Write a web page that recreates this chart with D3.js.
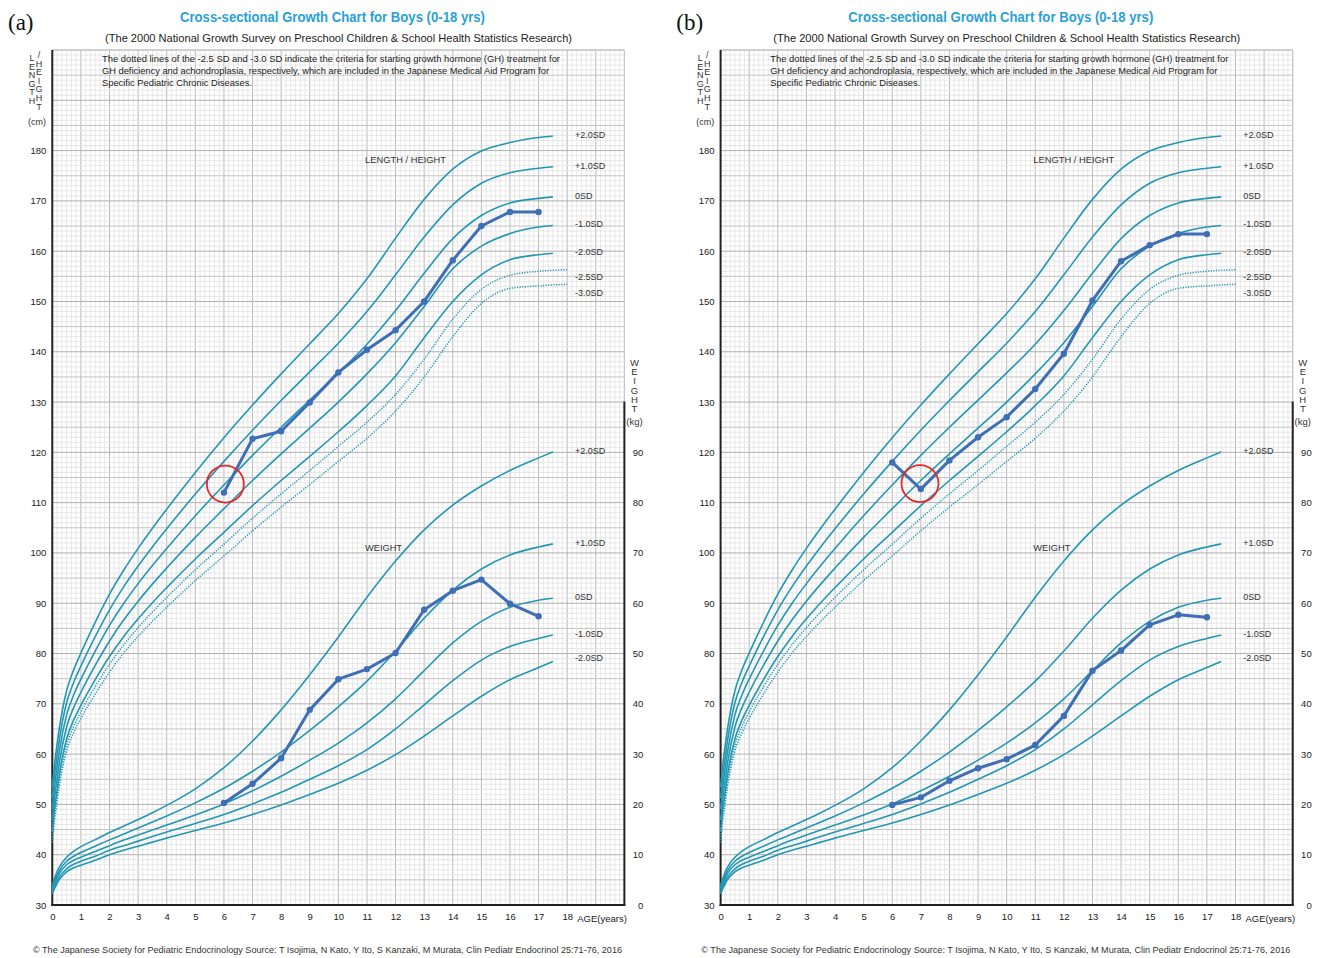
<!DOCTYPE html>
<html><head><meta charset="utf-8">
<script src="https://cdn.jsdelivr.net/npm/d3@7"></script>
<style>body{margin:0;background:#fff}</style>
</head><body>
<svg id="c" width="1322" height="958"></svg>
<script>
// ---------------- DATA ----------------
const ages = [0, 0.08, 0.17, 0.25, 0.5, 0.75, 1, 1.5, 2, 2.5, 3, 3.5, 4, 5, 6, 7, 8, 9, 10, 11, 12, 13, 14, 15, 16, 17, 17.5];
const dottedAges = [0, 0.08, 0.17, 0.25, 0.5, 0.75, 1, 1.5, 2, 2.5, 3, 3.5, 4, 5, 6, 7, 8, 9, 10, 11, 12, 13, 14, 15, 16, 17, 17.5, 18];

// length/height reference curves (cm)
const hP2 = [53.4, 58.0, 62.1, 65.3, 72.6, 76.8, 80.1, 86.2, 91.8, 96.6, 100.9, 104.9, 108.7, 116.0, 122.9, 129.4, 135.6, 141.6, 147.6, 154.5, 162.6, 170.3, 176.3, 179.9, 181.6, 182.6, 182.9];
const hP1 = [51.2, 55.8, 59.8, 63.0, 70.2, 74.3, 77.5, 83.35, 88.7, 93.3, 97.4, 101.2, 104.8, 111.7, 118.2, 124.4, 130.3, 136.0, 141.7, 148.0, 155.3, 162.8, 169.2, 173.5, 175.6, 176.5, 176.8];
const h0  = [49.0, 53.6, 57.5, 60.7, 67.8, 71.8, 74.9, 80.5, 85.6, 90.0, 93.9, 97.5, 100.9, 107.4, 113.5, 119.4, 125.0, 130.4, 135.8, 141.5, 148.2, 155.6, 162.5, 167.1, 169.6, 170.5, 170.8];
const hM1 = [46.8, 51.4, 55.2, 58.4, 65.4, 69.3, 72.3, 77.65, 82.5, 86.7, 90.4, 93.8, 97.0, 103.1, 108.8, 114.4, 119.7, 124.8, 130.0, 135.6, 141.8, 149.0, 156.5, 161.0, 163.5, 164.8, 165.1];
const hM2 = [44.6, 49.2, 52.9, 56.1, 63.0, 66.8, 69.7, 74.8, 79.4, 83.4, 86.9, 90.1, 93.1, 98.8, 104.1, 109.4, 114.4, 119.2, 124.1, 129.3, 135.2, 142.8, 150.0, 155.3, 158.3, 159.3, 159.6];
const hM25 = [43.5, 48.1, 51.75, 54.95, 61.8, 65.55, 68.4, 73.4, 77.85, 81.75, 85.15, 88.25, 91.15, 96.65, 101.75, 106.9, 111.75, 116.4, 121.2, 126.0, 131.5, 138.5, 146.5, 152.4, 155.2, 156.0, 156.2, 156.3];
const hM3 = [42.4, 47.0, 50.6, 53.8, 60.6, 64.3, 67.1, 71.95, 76.3, 80.1, 83.4, 86.4, 89.2, 94.5, 99.4, 104.4, 109.1, 113.6, 118.2, 122.8, 128.2, 135.0, 143.0, 149.6, 152.6, 153.1, 153.3, 153.4];

// weight reference curves (kg)
const wP2 = [3.9, 5.3, 6.7, 7.6, 9.5, 10.7, 11.6, 13.0, 14.4, 15.7, 17.0, 18.35, 19.8, 23.1, 27.3, 32.6, 38.8, 45.8, 53.3, 61.2, 68.4, 74.6, 79.5, 83.3, 86.4, 88.9, 90.1];
const wP1 = [3.4, 4.7, 6.0, 6.9, 8.7, 9.7, 10.45, 11.7, 12.95, 14.1, 15.3, 16.5, 17.7, 20.3, 23.2, 26.6, 30.4, 34.7, 39.4, 44.5, 50.5, 57.0, 62.6, 66.8, 69.6, 71.2, 71.8];
const w0  = [3.0, 4.2, 5.4, 6.3, 8.0, 8.9, 9.5, 10.65, 11.8, 12.9, 13.9, 14.9, 15.9, 17.9, 20.1, 22.7, 25.6, 28.8, 32.2, 36.2, 41.0, 46.6, 52.1, 56.4, 59.2, 60.6, 61.0];
const wM1 = [2.6, 3.7, 4.8, 5.6, 7.2, 8.1, 8.7, 9.7, 10.9, 11.8, 12.7, 13.6, 14.5, 16.2, 18.0, 20.1, 22.4, 25.0, 27.7, 30.9, 35.0, 39.8, 44.6, 48.7, 51.4, 53.0, 53.7];
const wM2 = [2.2, 3.3, 4.3, 5.1, 6.6, 7.4, 7.9, 8.9, 10.0, 10.9, 11.7, 12.5, 13.3, 14.8, 16.3, 18.0, 19.9, 22.0, 24.2, 26.8, 29.9, 33.6, 37.6, 41.5, 44.8, 47.2, 48.4];

const hLabels = ["+2.0SD", "+1.0SD", "0SD", "-1.0SD", "-2.0SD", "-2.5SD", "-3.0SD"];
const hLabelVals = [183.1, 176.9, 171.1, 165.5, 159.8, 154.9, 151.8];
const wLabels = ["+2.0SD", "+1.0SD", "0SD", "-1.0SD", "-2.0SD"];
const wLabelVals = [90.3, 72.1, 61.2, 54.0, 49.2];

const hTicks = [30, 40, 50, 60, 70, 80, 90, 100, 110, 120, 130, 140, 150, 160, 170, 180];
const wTicks = [0, 10, 20, 30, 40, 50, 60, 70, 80, 90];
const ageTicks = [0, 1, 2, 3, 4, 5, 6, 7, 8, 9, 10, 11, 12, 13, 14, 15, 16, 17, 18];

// patient data
const patientAges = [6, 7, 8, 9, 10, 11, 12, 13, 14, 15, 16, 17];
const aHeight = [112.0, 122.7, 124.2, 129.9, 135.9, 140.4, 144.3, 150.0, 158.2, 165.0, 167.8, 167.8];
const aWeight = [20.3, 24.1, 29.2, 38.8, 44.9, 46.9, 50.1, 58.7, 62.5, 64.7, 59.9, 57.4];
const bHeight = [118.0, 112.7, 118.4, 123.0, 127.0, 132.6, 139.6, 150.2, 158.0, 161.2, 163.4, 163.4];
const bWeight = [19.9, 21.4, 24.7, 27.2, 29.0, 31.8, 37.6, 46.6, 50.6, 55.7, 57.7, 57.2];
const aCircle = [6.05, 113.7];
const bCircle = [6.97, 113.8];

const titleText = "Cross-sectional Growth Chart for Boys (0-18 yrs)";
const subtitleText = "(The 2000 National Growth Survey on Preschool Children & School Health Statistics Research)";
const noteLines = [
  "The dotted lines of the -2.5 SD and -3.0 SD indicate the criteria for starting growth hormone (GH) treatment for",
  "GH deficiency and achondroplasia, respectively, which are included in the Japanese Medical Aid Program for",
  "Specific Pediatric Chronic Diseases."
];
const footerText = "\u00A9 The Japanese Society for Pediatric Endocrinology    Source: T Isojima, N Kato, Y Ito, S Kanzaki, M Murata, Clin Pediatr Endocrinol 25:71-76, 2016";

// ---------------- DRAW ----------------
const svg = d3.select("#c");
const CURVE = "#2297b4";
const PAT = "#3e6fb6";
const FONT = "'Liberation Sans', Arial, sans-serif";

function panel(ox, tag, pH, pW, circ) {
  const g = svg.append("g").attr("transform", `translate(${ox},0)`);
  const x = d3.scaleLinear().domain([0, 20]).range([52.3, 624.4]);
  const y = d3.scaleLinear().domain([30, 200]).range([905, 50]);
  const yw = d3.scaleLinear().domain([0, 170]).range([905, 50]);

  // grid
  const grid = g.append("g");
  const vx = d3.range(0, 20 * 6 + 1).map(i => i / 6);
  grid.selectAll("line.v").data(vx).join("line")
    .attr("x1", d => x(d)).attr("x2", d => x(d)).attr("y1", y(200)).attr("y2", y(30))
    .attr("stroke", (d, i) => i % 6 === 0 ? "#b9b9b9" : "#dedede")
    .attr("stroke-width", (d, i) => i % 6 === 0 ? 1 : 0.7);
  const hy = d3.range(30, 201);
  grid.selectAll("line.h").data(hy).join("line")
    .attr("x1", x(0)).attr("x2", x(20)).attr("y1", d => y(d)).attr("y2", d => y(d))
    .attr("stroke", d => d % 10 === 0 ? "#b0b0b0" : d % 5 === 0 ? "#c4c4c4" : "#dedede")
    .attr("stroke-width", d => d % 5 === 0 ? 1 : 0.7);
  // border
  g.append("line").attr("x1", x(20)).attr("x2", x(20)).attr("y1", y(200)).attr("y2", y(30)).attr("stroke", "#c8c8c8");
  g.append("line").attr("x1", x(0)).attr("x2", x(20)).attr("y1", y(200)).attr("y2", y(200)).attr("stroke", "#c8c8c8");
  g.append("line").attr("x1", x(0)).attr("x2", x(0)).attr("y1", y(200)).attr("y2", y(30) + 1).attr("stroke", "#222").attr("stroke-width", 2);
  g.append("line").attr("x1", x(0) - 1).attr("x2", x(20) + 1).attr("y1", y(30)).attr("y2", y(30)).attr("stroke", "#222").attr("stroke-width", 2);
  g.append("line").attr("x1", x(20)).attr("x2", x(20)).attr("y1", yw(100) - 0.5).attr("y2", y(30)).attr("stroke", "#222").attr("stroke-width", 2);

  // axes
  const left = g.append("g").attr("transform", `translate(${x(0) - 6},0)`)
    .call(d3.axisLeft(y).tickValues(hTicks).tickSize(0).tickFormat(d3.format("d")));
  const right = g.append("g").attr("transform", `translate(${x(20) + 19},0)`)
    .call(d3.axisLeft(yw).tickValues(wTicks).tickSize(0).tickFormat(d3.format("d")));
  const bottom = g.append("g").attr("transform", `translate(0,${y(30) + 8})`)
    .call(d3.axisBottom(x).tickValues(ageTicks).tickSize(0).tickFormat(d3.format("d")));
  [left, right, bottom].forEach(a => {
    a.select(".domain").remove();
    a.selectAll("text").attr("font-family", FONT).attr("font-size", 9.5).attr("fill", "#222");
  });
  left.selectAll("text").attr("dx", 0).attr("x", 0);
  right.selectAll("text").attr("x", 0);
  bottom.selectAll("text").attr("y", 0).attr("dy", "0.71em");
  g.append("text").attr("x", x(18) + 10).attr("y", y(30) + 17).text("AGE(years)")
    .attr("font-family", FONT).attr("font-size", 9.5).attr("fill", "#222");

  // axis titles
  const c1 = ["L", "E", "N", "G", "T", "H"];
  const c2 = ["/", "H", "E", "I", "G", "H", "T"];
  const at = g.append("g").attr("font-family", FONT).attr("font-size", 9).attr("fill", "#333").attr("text-anchor", "middle");
  c1.forEach((c, i) => at.append("text").attr("x", 32).attr("y", 61 + i * 8.6).text(c));
  c2.forEach((c, i) => at.append("text").attr("x", 39).attr("y", 58 + i * 8.6).text(c));
  at.append("text").attr("x", 37).attr("y", 125).text("(cm)");
  const wl = ["W", "E", "I", "G", "H", "T"];
  const wt = g.append("g").attr("font-family", FONT).attr("font-size", 9.5).attr("fill", "#333").attr("text-anchor", "middle");
  wl.forEach((c, i) => wt.append("text").attr("x", 634.5).attr("y", 366 + i * 9.2).text(c));
  wt.append("text").attr("x", 634.5).attr("y", 425).text("(kg)");

  // reference curves
  const line = (xs, ys, sc) => d3.line().curve(d3.curveMonotoneX)(xs.map((a, i) => [x(a), sc(ys[i])]));
  const cg = g.append("g").attr("fill", "none").attr("stroke", CURVE);
  [hP2, hP1, h0, hM1, hM2].forEach(s => cg.append("path").attr("d", line(ages, s, y)).attr("stroke-width", 1.6));
  [hM25, hM3].forEach(s => cg.append("path").attr("d", line(dottedAges, s, y)).attr("stroke-width", 1.5).attr("stroke-dasharray", "1.2,1.4"));
  [wP2, wP1, w0, wM1, wM2].forEach(s => cg.append("path").attr("d", line(ages, s, yw)).attr("stroke-width", 1.6));

  // SD labels
  const lg = g.append("g").attr("font-family", FONT).attr("font-size", 9).attr("fill", "#333");
  hLabels.forEach((t, i) => lg.append("text").attr("x", 575).attr("y", y(hLabelVals[i])).attr("dy", "0.35em").text(t));
  wLabels.forEach((t, i) => lg.append("text").attr("x", 575).attr("y", yw(wLabelVals[i])).attr("dy", "0.35em").text(t));
  lg.append("text").attr("x", 365).attr("y", 163).text("LENGTH / HEIGHT").attr("textLength", 81).attr("lengthAdjust", "spacingAndGlyphs");
  lg.append("text").attr("x", 365).attr("y", 551).text("WEIGHT").attr("textLength", 37).attr("lengthAdjust", "spacingAndGlyphs");

  // patient
  const pl = d3.line();
  [pH.map((v, i) => [x(patientAges[i]), y(v)]), pW.map((v, i) => [x(patientAges[i]), yw(v)])].forEach(pts => {
    g.append("path").attr("d", pl(pts)).attr("fill", "none").attr("stroke", PAT).attr("stroke-width", 3).attr("stroke-linejoin", "round");
    g.selectAll(null).data(pts).join("circle").attr("cx", d => d[0]).attr("cy", d => d[1]).attr("r", 3.2).attr("fill", PAT);
  });
  g.append("circle").attr("cx", x(circ[0])).attr("cy", y(circ[1])).attr("r", 18.5)
    .attr("fill", "none").attr("stroke", "#e62828").attr("stroke-width", 1.8);

  // titles
  g.append("text").attr("x", 8).attr("y", 30).text(tag).attr("font-family", "'Liberation Serif', 'Times New Roman', serif").attr("font-size", 23).attr("fill", "#111");
  g.append("text").attr("x", 180).attr("y", 22).text(titleText).attr("font-family", FONT).attr("font-weight", "bold")
    .attr("font-size", 14.5).attr("fill", "#2a9fd8").attr("textLength", 305).attr("lengthAdjust", "spacingAndGlyphs");
  g.append("text").attr("x", 105).attr("y", 42).text(subtitleText).attr("font-family", FONT)
    .attr("font-size", 11).attr("fill", "#222").attr("textLength", 467).attr("lengthAdjust", "spacingAndGlyphs");
  const nl = [458, 447, 150];
  noteLines.forEach((t, i) => g.append("text").attr("x", 102).attr("y", 62 + i * 12).text(t).attr("font-family", FONT)
    .attr("font-size", 9).attr("fill", "#222").attr("textLength", nl[i]).attr("lengthAdjust", "spacingAndGlyphs"));
  g.append("text").attr("x", 33).attr("y", 953).text(footerText).attr("font-family", FONT)
    .attr("font-size", 9.5).attr("fill", "#333").attr("textLength", 589).attr("lengthAdjust", "spacingAndGlyphs");
}

panel(0, "(a)", aHeight, aWeight, aCircle);
panel(668.3, "(b)", bHeight, bWeight, bCircle);
</script>
</body></html>
